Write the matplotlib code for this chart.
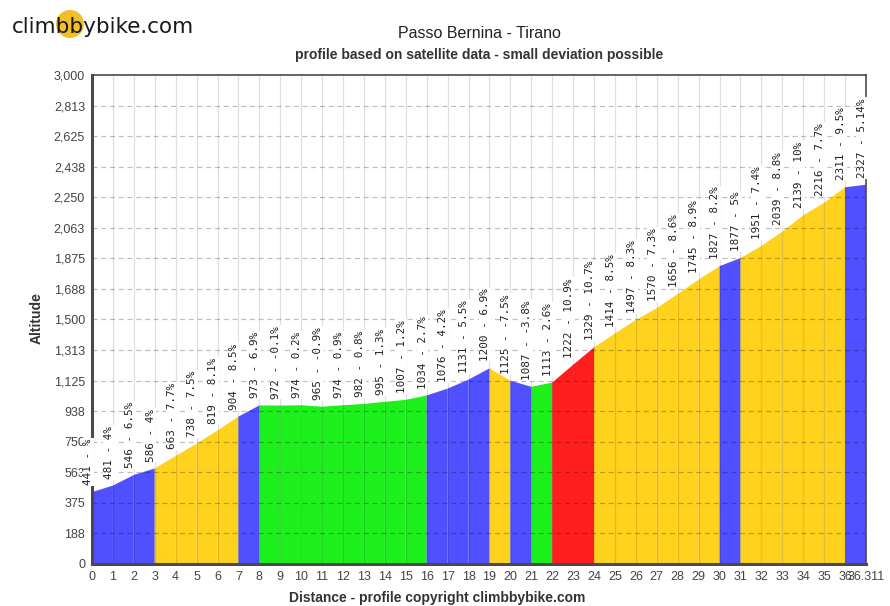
import matplotlib
matplotlib.use("Agg")
import matplotlib.pyplot as plt
from matplotlib.patches import Ellipse, Polygon

# profile data: distance (km), altitude (m), grade of preceding km
distances = ["0", "1", "2", "3", "4", "5", "6", "7", "8", "9", "10", "11", "12", "13",
             "14", "15", "16", "17", "18", "19", "20", "21", "22", "23", "24", "25",
             "26", "27", "28", "29", "30", "31", "32", "33", "34", "35", "36", "36.311"]
altitudes = [441, 481, 546, 586, 663, 738, 819, 904, 973, 972, 974, 965, 974, 982,
             995, 1007, 1034, 1076, 1131, 1200, 1125, 1087, 1113, 1222, 1329, 1414,
             1497, 1570, 1656, 1745, 1827, 1877, 1951, 2039, 2139, 2216, 2311, 2327]
grades = ["", "4", "6.5", "4", "7.7", "7.5", "8.1", "8.5", "6.9", "-0.1", "0.2", "-0.9",
          "0.9", "0.8", "1.3", "1.2", "2.7", "4.2", "5.5", "6.9", "-7.5", "-3.8", "2.6",
          "10.9", "10.7", "8.5", "8.3", "7.3", "8.6", "8.9", "8.2", "5", "7.4", "8.8",
          "10", "7.7", "9.5", "5.14"]
# colour class of each segment (B blue, Y yellow, G green, R red)
segment_class = list("BBBYYYYBGGGGGGGGBBBYBGRRYYYYYYBYYYYYB")

palette = {"B": "#5050FF", "Y": "#FFD21E", "G": "#1EF01E", "R": "#FF1E1E"}

fig = plt.figure(figsize=(8.9, 6.06), dpi=100)
ax = fig.add_axes([92 / 890, 42 / 606, 774 / 890, 489 / 606])

# filled segments
for i, cls in enumerate(segment_class):
    poly = Polygon([(i, 0), (i, altitudes[i]), (i + 1, altitudes[i + 1]), (i + 1, 0)],
                   closed=True, facecolor=palette[cls], edgecolor="none", zorder=1)
    ax.add_patch(poly)

ax.set_xlim(0, len(distances) - 1)
ax.set_ylim(0, 3000)

yticks = [k * 187.5 for k in range(17)]
ax.set_yticks(yticks)
ax.set_yticklabels([f"{int(v + 0.5):,}" for v in yticks])
ax.set_xticks(range(len(distances)))
ax.set_xticklabels(distances)

# grid drawn over the fill, semi transparent
for x in range(1, len(distances) - 1):
    ax.axvline(x, color="black", alpha=0.12, lw=0.9, zorder=2)
for y in yticks[1:-1]:
    ax.axhline(y, color="black", alpha=0.25, lw=0.9, ls=(0, (4, 3)), zorder=2)

ax.tick_params(length=0, labelsize=9, labelcolor="#444444", pad=5)
for lab in ax.get_xticklabels() + ax.get_yticklabels():
    lab.set_fontfamily("Liberation Sans")

for side in ["left", "bottom"]:
    ax.spines[side].set_linewidth(2.2)
    ax.spines[side].set_color("#4a4a4a")
for side in ["top", "right"]:
    ax.spines[side].set_linewidth(1.2)
    ax.spines[side].set_color("#4a4a4a")

# km labels
for i, (alt, gr) in enumerate(zip(altitudes, grades)):
    ax.annotate(f"{alt} - {gr}%", xy=(i, alt), xytext=(-3, 5), textcoords="offset points",
                rotation=90, ha="center", va="bottom", fontsize=7.9,
                family="DejaVu Sans Mono", color="#222222", zorder=5,
                bbox=dict(facecolor="white", edgecolor="none", pad=0.6),
                annotation_clip=False)

# titles and axis labels
fig.text(479 / 890, 1 - 33 / 606, "Passo Bernina - Tirano", ha="center", va="center",
         fontsize=11.5, family="Liberation Sans", color="#222222")
fig.text(479 / 890, 1 - 55 / 606, "profile based on satellite data - small deviation possible",
         ha="center", va="center", fontsize=10, fontweight="bold",
         family="Liberation Sans", color="#333333")
fig.text(437 / 890, 1 - 598 / 606, "Distance - profile copyright climbbybike.com",
         ha="center", va="center", fontsize=10, fontweight="bold",
         family="Liberation Sans", color="#333333")
fig.text(37 / 890, 1 - 318 / 606, "Altitude", ha="center", va="center", rotation=90,
         fontsize=10, fontweight="bold", family="Liberation Sans", color="#333333")

# logo
fig.patches.append(Ellipse((70 / 890, 1 - 24 / 606), 28 / 890, 28 / 606,
                           transform=fig.transFigure, facecolor="#F2BE2A",
                           edgecolor="none", zorder=0))
fig.text(12 / 890, 1 - 27 / 606, "climbbybike.com", ha="left", va="center",
         fontsize=15.5, family="DejaVu Sans", color="#1a1a1a")

fig.savefig("out.png", dpi=100)
